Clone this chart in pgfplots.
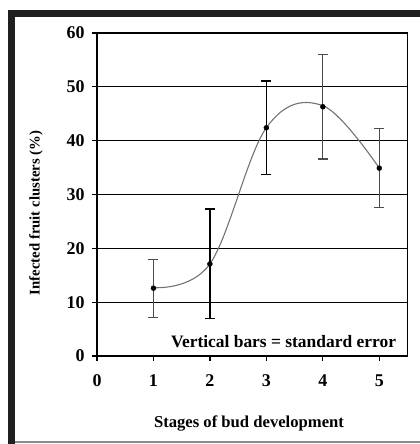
\documentclass[border=0pt]{standalone}
\usepackage{fontspec}
\setmainfont{Liberation Serif}
\usepackage{pgfplots}
\pgfplotsset{compat=1.18}
\begin{document}
\begin{tikzpicture}
\begin{axis}[
 at={(0,0)}, anchor=south west, scale only axis,
 width=310.5bp, height=323bp,
 xmin=0, xmax=5.5, ymin=0, ymax=60,
 xtick={0,1,2,3,4,5}, ytick={0,10,...,60},
 xtick pos=bottom, ytick pos=left,
 tick align=outside, major tick length=5bp,
 tick style={black, line width=1.2bp},
 axis line style={line width=1.3bp},
 ymajorgrids, grid style={black, line width=1bp},
 tick label style={font=\fontsize{18}{18}\selectfont\bfseries},
 /pgf/number format/assume math mode=true,
 xticklabel style={yshift=-10bp}, yticklabel style={xshift=-4bp},
 clip=false,
]
\addplot[black!55, line width=1.1bp, smooth, tension=0.6] coordinates {(1,12.7)(2,17.1)(3,42.4)(4,46.5)(5,34.9)};
\addplot[only marks, mark=*, mark size=2.5bp, black,
  error bars/.cd, y dir=both, y explicit,
  error bar style={line width=1.2bp, black},
  error mark options={rotate=90, mark size=5bp, line width=1.2bp, black}]
  coordinates {(2,17.1) +- (0,10.2) (3,42.4) +- (0,8.7)};
\addplot[only marks, mark=*, mark size=2.5bp, black,
  error bars/.cd, y dir=both, y explicit,
  error bar style={line width=1.1bp, black!70},
  error mark options={rotate=90, mark size=5bp, line width=1.1bp, black!70}]
  coordinates {(1,12.6) +- (0,5.4) (4,46.3) +- (0,9.7) (5,34.9) +- (0,7.3)};
\end{axis}
\node[font=\fontsize{17.5}{17.5}\selectfont\bfseries] at (186.5bp,14bp) {Vertical bars = standard error};
\node[font=\fontsize{16.7}{16.7}\selectfont\bfseries] at (152bp,-67bp) {Stages of bud development};
\node[font=\fontsize{14.8}{14.8}\selectfont\bfseries, rotate=90] at (-61bp,143bp) {Infected fruit clusters (\%)};
\fill[black!88] (-89bp,-88bp) rectangle (-82bp,346bp);
\fill[black!88] (-89bp,339bp) rectangle (323bp,346bp);
\draw[black!45, line width=1.5bp] (-82bp,-86bp) -- (323bp,-86bp);
\pgfresetboundingbox
\path[use as bounding box] (-97bp,-88bp) rectangle (323bp,356bp);
\end{tikzpicture}
\end{document}
